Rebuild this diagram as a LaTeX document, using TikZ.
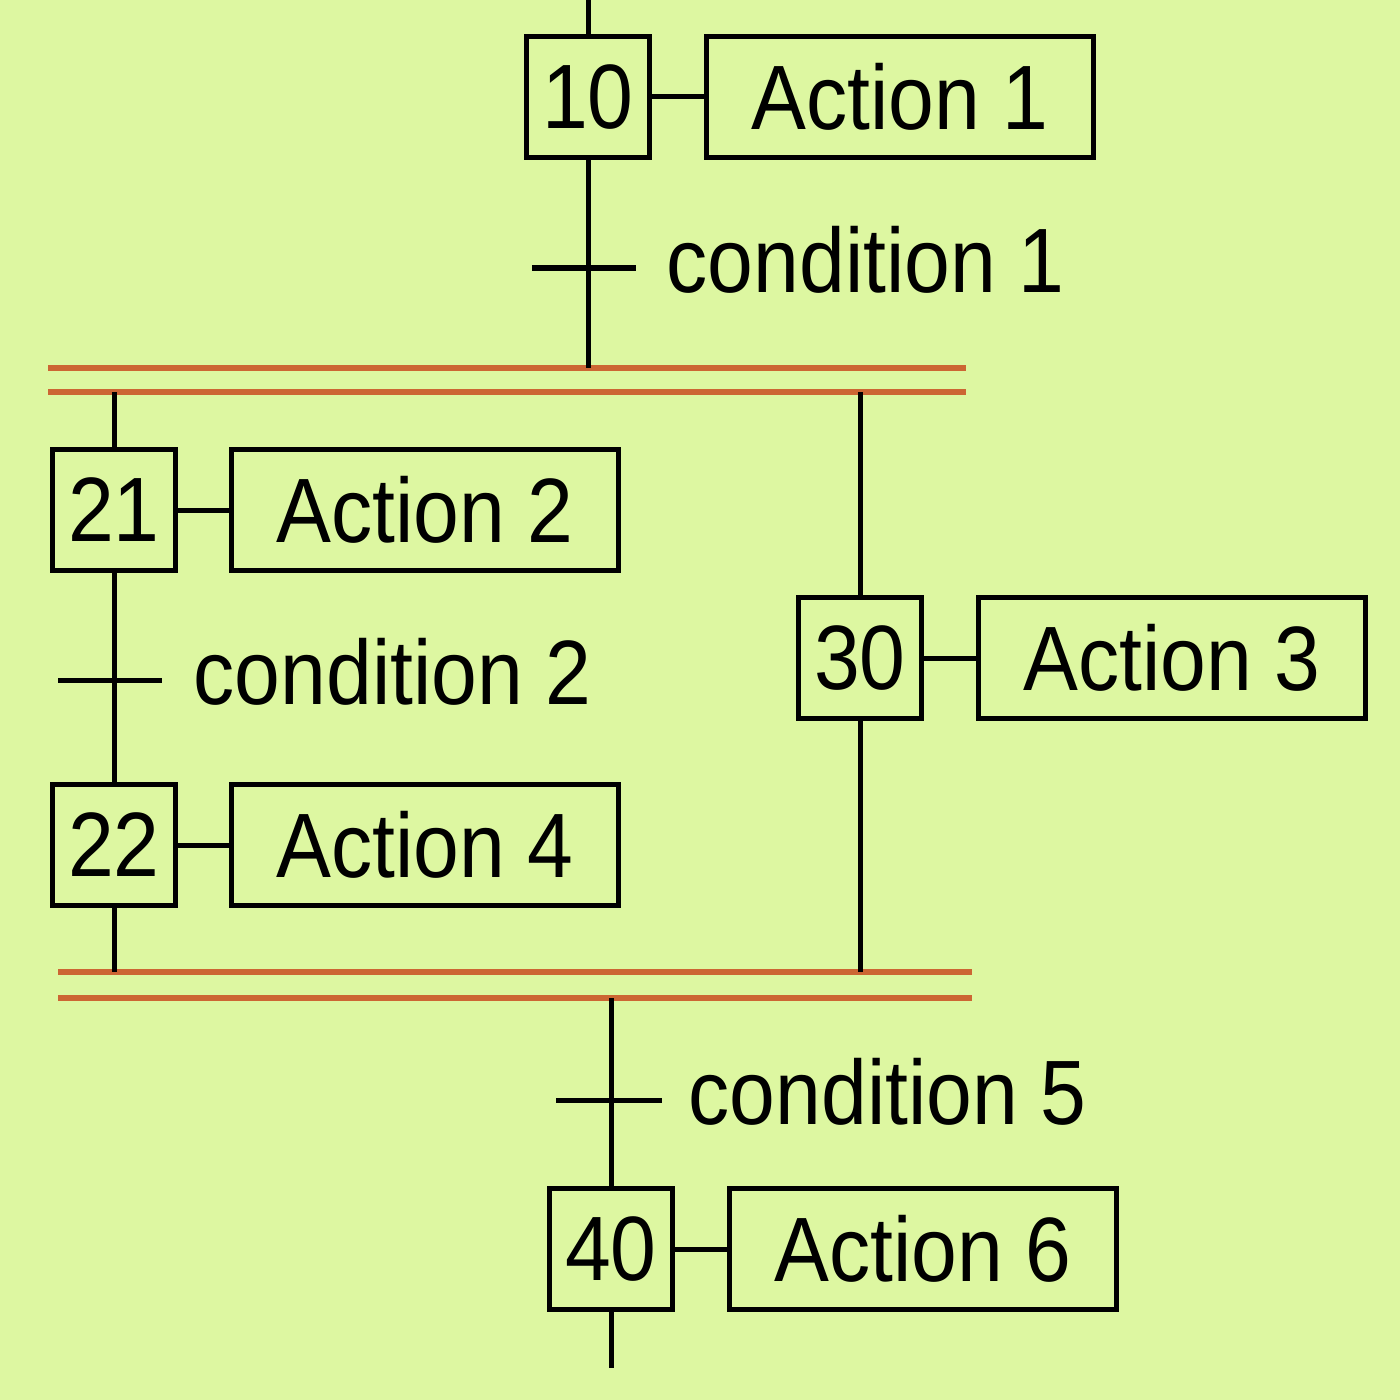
\documentclass[tikz,border=0pt]{standalone}
\usepackage{fontspec}
\newfontfamily\lbl[FakeStretch=0.9]{Liberation Sans}
\definecolor{bg}{RGB}{221,247,161}
\definecolor{bar}{RGB}{204,102,51}
\begin{document}
\begin{tikzpicture}[x=0.01cm,y=-0.01cm,
  stepbox/.style={draw=black,line width=0.05cm,minimum width=1.23cm,minimum height=1.20cm,inner sep=0pt,font=\lbl\fontsize{26}{28}\selectfont},
  actbox/.style={draw=black,line width=0.05cm,minimum width=3.87cm,minimum height=1.20cm,inner sep=0pt,font=\lbl\fontsize{26}{28}\selectfont},
  cond/.style={anchor=west,inner sep=0pt,font=\lbl\fontsize{26}{28}\selectfont},
  link/.style={draw=black,line width=0.05cm},
  barline/.style={draw=bar,line width=0.055cm}]
\fill[bg] (0,0) rectangle (1400,1400);
\useasboundingbox (0,0) rectangle (1400,1400);
% steps and actions
\node[stepbox] (s10) at (588,97) {10};
\node[actbox] (a10) at (900,97) {Action 1};
\node[stepbox] (s21) at (114,510) {21};
\node[actbox] (a21) at (425,510) {Action 2};
\node[stepbox] (s22) at (114,845) {22};
\node[actbox] (a22) at (425,845) {Action 4};
\node[stepbox] (s30) at (860,658) {30};
\node[actbox] (a30) at (1172,658) {Action 3};
\node[stepbox] (s40) at (611,1249) {40};
\node[actbox] (a40) at (923,1249) {Action 6};
% conditions
\node[cond] (c1) at (666,260) {condition 1};
\node[cond] (c2) at (193,672) {condition 2};
\node[cond] (c5) at (688,1092) {condition 5};
% coordinates
\coordinate (top) at (588,0);
\coordinate (b1) at (588,368);
\coordinate (b1l) at (114,392);
\coordinate (b1r) at (860,392);
\coordinate (b2l) at (114,972);
\coordinate (b2r) at (860,972);
\coordinate (b2) at (611,998);
\coordinate (bot) at (611,1368);
\coordinate (t1a) at (532,268);
\coordinate (t1b) at (636,268);
\coordinate (t2a) at (58,680);
\coordinate (t2b) at (162,680);
\coordinate (t5a) at (556,1100);
\coordinate (t5b) at (662,1100);
\coordinate (p1a) at (48,368);
\coordinate (p1b) at (966,368);
\coordinate (p2a) at (48,392);
\coordinate (p2b) at (966,392);
\coordinate (p3a) at (58,972);
\coordinate (p3b) at (972,972);
\coordinate (p4a) at (58,998);
\coordinate (p4b) at (972,998);
% parallel bars
\draw[barline] (p1a) -- (p1b);
\draw[barline] (p2a) -- (p2b);
\draw[barline] (p3a) -- (p3b);
\draw[barline] (p4a) -- (p4b);
% connectors
\draw[link] (top) -- (s10.north);
\draw[link] (s10.south) -- (b1);
\draw[link] (t1a) -- (t1b);
\draw[link] (b1l) -- (s21.north);
\draw[link] (s21.south) -- (s22.north);
\draw[link] (t2a) -- (t2b);
\draw[link] (s22.south) -- (b2l);
\draw[link] (b1r) -- (s30.north);
\draw[link] (s30.south) -- (b2r);
\draw[link] (b2) -- (s40.north);
\draw[link] (t5a) -- (t5b);
\draw[link] (s40.south) -- (bot);
\draw[link] (s10.east) -- (a10.west);
\draw[link] (s21.east) -- (a21.west);
\draw[link] (s22.east) -- (a22.west);
\draw[link] (s30.east) -- (a30.west);
\draw[link] (s40.east) -- (a40.west);
\end{tikzpicture}
\end{document}
